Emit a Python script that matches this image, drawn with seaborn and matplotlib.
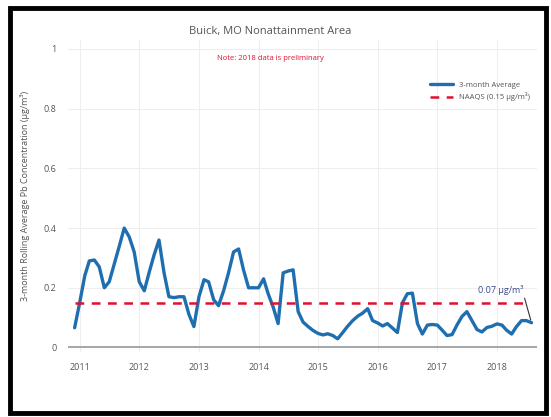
import pandas as pd
import seaborn as sns
import matplotlib.pyplot as plt
import matplotlib.dates as mdates
from matplotlib.patches import Rectangle

# monthly 3-month rolling average, Dec 2010 - Aug 2018
start_month = '2010-12-01'
pb_avg = [0.066, 0.15, 0.24, 0.29, 0.293, 0.27, 0.2, 0.22, 0.28, 0.34,
          0.40, 0.37, 0.32, 0.22, 0.19, 0.25, 0.31, 0.36, 0.25, 0.17,
          0.167, 0.17, 0.17, 0.11, 0.07, 0.17, 0.227, 0.22, 0.16, 0.14,
          0.19, 0.25, 0.32, 0.33, 0.26, 0.2, 0.2, 0.2, 0.23, 0.18,
          0.135, 0.08, 0.25, 0.256, 0.26, 0.12, 0.085, 0.07, 0.057, 0.047,
          0.042, 0.046, 0.04, 0.029, 0.05, 0.071, 0.09, 0.105, 0.115, 0.13,
          0.09, 0.082, 0.072, 0.08, 0.065, 0.05, 0.15, 0.18, 0.182, 0.08,
          0.045, 0.075, 0.077, 0.075, 0.057, 0.04, 0.043, 0.075, 0.104, 0.12,
          0.09, 0.06, 0.052, 0.067, 0.071, 0.079, 0.075, 0.058, 0.045, 0.07,
          0.09, 0.09, 0.083]
naaqs = 0.15
years = [2011, 2012, 2013, 2014, 2015, 2016, 2017, 2018]
y_ticks = [0, 0.2, 0.4, 0.6, 0.8, 1]
y_labels = ['0', '0.2', '0.4', '0.6', '0.8', '1']

df = pd.DataFrame({'date': pd.date_range(start_month, periods=len(pb_avg), freq='MS'),
                   'pb': pb_avg})
df['naaqs'] = naaqs
df_naaqs = df.iloc[:-1]

sns.set_style('white')
plt.rcParams['font.family'] = ['Open Sans', 'DejaVu Sans']

fig = plt.figure(figsize=(5.51, 4.17), dpi=100)
ax = fig.add_axes([0.123, 0.156, 0.852, 0.748])

sns.lineplot(data=df, x='date', y='pb', ax=ax, color='#1f6fb0', linewidth=2.4,
             label='3-month Average')
sns.lineplot(data=df_naaqs, x='date', y='naaqs', ax=ax, color='#e0102e', linewidth=1.8,
             linestyle=(0, (3.5, 3)), label='NAAQS (0.15 µg/m³)')

ax.set_xlim(pd.Timestamp('2010-10-20'), pd.Timestamp('2018-09-05'))
ax.set_ylim(-0.015, 1.03)
ax.set_xticks([pd.Timestamp(f'{y}-01-01') for y in years])
ax.xaxis.set_major_formatter(mdates.DateFormatter('%Y'))
ax.set_yticks(y_ticks)
ax.set_yticklabels(y_labels)
ax.tick_params(axis='both', labelsize=6.5, colors='#555555', length=0, pad=8)
ax.grid(True, color='#eeeeee', linewidth=0.8)
ax.axhline(0, color='#999999', linewidth=1.2, zorder=1)
for s in ax.spines.values():
    s.set_visible(False)

ax.set_xlabel('')
ax.set_ylabel('3-month Rolling Average Pb Concentration (µg/m³)', fontsize=6.5,
              color='#555555', labelpad=10)

ax.legend(loc='upper right', bbox_to_anchor=(1.0, 0.89), frameon=False, fontsize=5.5,
          handlelength=3.0, labelcolor='#555555')

last = df.iloc[-1]
ax.annotate('0.07 µg/m³', xy=(last['date'], last['pb']), xytext=(-22, 20),
            textcoords='offset points', ha='center', va='bottom', fontsize=6.5,
            color='#3a4a8c',
            arrowprops=dict(arrowstyle='-', color='#333333', linewidth=0.8,
                            shrinkA=0, shrinkB=2, relpos=(1.0, 0.0)))

fig.text(0.49, 0.925, 'Buick, MO Nonattainment Area', ha='center', va='center',
         fontsize=8, color='#555555')
fig.text(0.49, 0.86, 'Note: 2018 data is preliminary', ha='center', va='center',
         fontsize=5.5, color='#e0102e')

fig.patches.append(Rectangle((10 / 551, 1 - 413 / 417), 536 / 551, 405 / 417,
                             transform=fig.transFigure, fill=False,
                             edgecolor='black', linewidth=3.5))

fig.savefig('out.png', dpi=100)
